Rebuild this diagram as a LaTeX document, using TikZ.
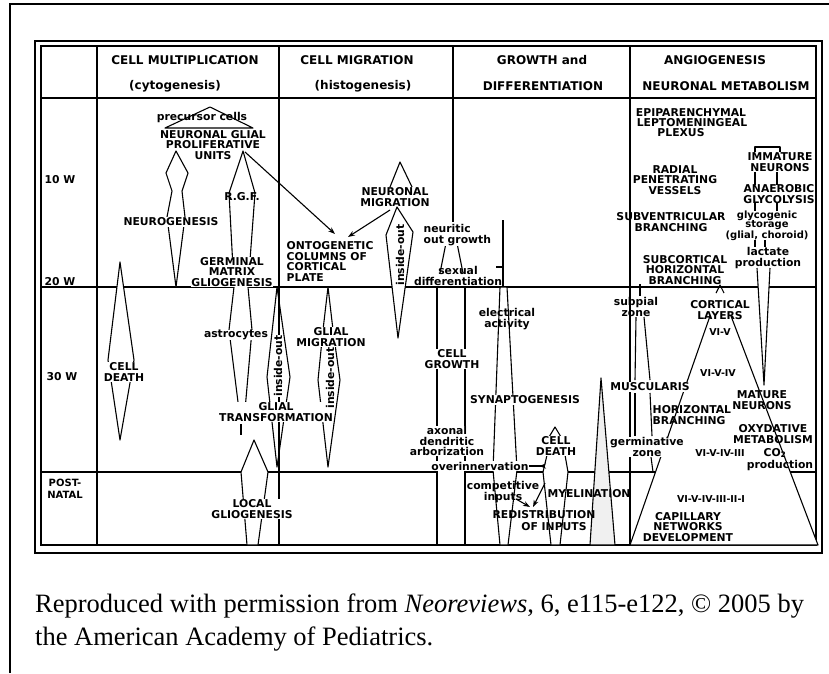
\documentclass[tikz,border=0pt]{standalone}
\usepackage{fontspec}
\setmainfont{Liberation Serif}
\newfontfamily\labfont{DejaVu Sans}
\usetikzlibrary{arrows.meta}
\begin{document}
\begin{tikzpicture}[x=1pt,y=-1pt,
  lab/.style={font=\labfont\bfseries\fontsize{10.8}{10.5}\selectfont, inner sep=0.5pt, align=center},
  labw/.style={lab, fill=white},
  sm/.style={font=\labfont\bfseries\fontsize{9.5}{10}\selectfont, inner sep=0.5pt, align=center},
  hd/.style={font=\labfont\bfseries\fontsize{12}{12}\selectfont, inner sep=0},
  grid/.style={line width=1.3pt},
  outl/.style={line width=1.1pt, line join=round},
  arr/.style={line width=1.1pt, -{Stealth[length=7pt,width=5pt]}},
  rarr/.style={line width=1.1pt, -{Stealth[length=7pt,width=5pt,reversed]}},
  captext/.style={font=\fontsize{26.5}{33}\selectfont, inner sep=0, anchor=base west},
]
\useasboundingbox (0,0) rectangle (829,673);
% page frame
\draw[line width=1.3pt] (10,673) -- (10,4) -- (829,4);
% table frame
\draw[line width=1.7pt] (35,41) rectangle (822,553);
\draw[line width=1.1pt] (41,46) rectangle (816,545);
% grid
\draw[grid] (41,98) -- (816,98);
\draw[grid] (41,287) -- (816,287);
\draw[grid] (41,472) -- (816,472);
\draw[grid] (97,46) -- (97,545);
\draw[grid] (279,46) -- (279,545);
\draw[grid] (453,46) -- (453,222);
\draw[grid] (630,46) -- (630,545);

% headers
\node[hd] (h1a) at (185,60) {CELL MULTIPLICATION};
\node[hd] (h1b) at (175,86) {(cytogenesis)};
\node[hd] (h2a) at (357,60) {CELL MIGRATION};
\node[hd] (h2b) at (363,86) {(histogenesis)};
\node[hd] (h3a) at (542,60) {GROWTH and};
\node[hd] (h3b) at (543,86) {DIFFERENTIATION};
\node[hd] (h4a) at (715,60) {ANGIOGENESIS};
\node[hd] (h4b) at (726,86) {NEURONAL METABOLISM};

% row labels
\node[lab] (w10) at (60,180) {10 W};
\node[lab] (w20) at (60,282) {20 W};
\node[lab] (w30) at (62,377) {30 W};
\node[lab, font=\labfont\bfseries\fontsize{10}{12}\selectfont] (post) at (65,489) {POST-\\NATAL};

% ---------- shapes: cell multiplication ----------
\draw[outl] (165,128) -- (210,107) -- (253,128) -- cycle;
\draw[outl,fill=white] (176,151) -- (188,173) -- (182,191) -- (185,217) -- (176,287)
  -- (167,217) -- (172,191) -- (166,173) -- cycle;
\draw[outl,fill=white] (243,151) -- (255,193) -- (248,287) -- (252,330) -- (245,410)
  -- (239,410) -- (229,330) -- (234,287) -- (229,193) -- cycle;
\draw[outl] (241,424) -- (241,435);
\draw[outl,fill=white] (120,262) -- (134,360) -- (120,440) -- (108,360) -- cycle;
\draw[outl,fill=white] (254,440) -- (268,472) -- (258,545) -- (247,545) -- (241,472) -- cycle;
\draw[outl] (277,287) -- (290,377) -- (277,467) -- (267,377) -- cycle;

% ---------- shapes: cell migration ----------
\coordinate (a1s) at (245,152);
\coordinate (a1e) at (335,234);
\coordinate (a2s) at (390,210);
\coordinate (a2e) at (348,237);
\draw[arr] (a1s) -- (a1e);
\draw[outl] (390,187) -- (400,162) -- (412,187);
\draw[arr] (a2s) -- (a2e);
\draw[outl,fill=white] (397,207) -- (413,232) -- (398,338) -- (386,235) -- cycle;
\draw[outl,fill=white] (328,287) -- (333,330) -- (340,380) -- (328,467) -- (318,380) -- (323,330) -- cycle;

% ---------- texts: cell multiplication ----------
\node[lab] (prec) at (202,118) {precursor cells};
\node[lab] (ngpu) at (213,145) {NEURONAL GLIAL\\PROLIFERATIVE\\UNITS};
\node[labw] (neuro) at (171,222) {NEUROGENESIS};
\node[lab] (rgf) at (242,197) {R.G.F.};
\node[labw] (gmg) at (232,272) {GERMINAL\\MATRIX\\GLIOGENESIS};
\node[labw] (astro) at (236,335) {astrocytes};
\node[labw] (cdeath1) at (124,372) {CELL\\DEATH};
\node[labw,rotate=90] (io1) at (278,366) {inside-out};
\node[labw] (gtrans) at (276,412) {GLIAL\\TRANSFORMATION};
\node[labw] (local) at (252,509) {LOCAL\\GLIOGENESIS};

% ---------- texts: cell migration ----------
\node[lab,align=left,anchor=north west] (onto) at (286,241) {ONTOGENETIC\\COLUMNS OF\\CORTICAL\\PLATE};
\node[lab] (nmig) at (395,197) {NEURONAL\\MIGRATION};
\node[labw,rotate=90] (io2) at (400,255) {inside-out};
\node[labw] (gmig) at (331,337) {GLIAL\\MIGRATION};
\node[labw,rotate=90] (io3) at (330,378) {inside-out};

% ---------- column: growth and differentiation ----------
\fill[white] (438,288) rectangle (464,544);
\draw[outl] (446,243) -- (440,273);
\draw[outl] (457,243) -- (463,273);
\draw[outl] (437,287) -- (437,545);
\draw[outl] (465,287) -- (465,545);
\draw[line width=1.8pt] (503,220) -- (503,287);
\draw[outl] (496,267) -- (503,267);
\draw[outl,fill=white] (500,287) -- (493,470) -- (500,545) -- (508,545) -- (517,470) -- (507,287) -- cycle;
\draw[outl] (549,437) -- (555,427) -- (561,437);
\draw[outl,fill=white] (547,455) -- (543,472) -- (551,545) -- (560,545) -- (568,472) -- (565,455);
\draw[outl,fill=gray!12] (601,378) -- (615,545) -- (590,545) -- cycle;

\node[labw,align=left,anchor=west] (neur) at (423,235) {neuritic\\out growth};
\node[lab,anchor=south] (sexd) at (458,286) {sexual\\differentiation};
\node[lab] (elec) at (507,319) {electrical\\activity};
\node[labw] (cgrowth) at (452,359) {CELL\\GROWTH};
\node[labw] (synap) at (525,400) {SYNAPTOGENESIS};
\node[labw] (axon) at (447,441) {axonal\\dendritic\\arborization};
\node[labw] (overinn) at (480,466) {overinnervation};
\node[lab] (compet) at (503,492) {competitive\\inputs};
\node[lab] (redis) at (544,515) {REDISTRIBUTION};
\node[lab] (ofinp) at (554,527) {OF INPUTS};
\node[labw] (cdeath2) at (556,446) {CELL\\DEATH};
\node[lab] (myel) at (589,494) {MYELINATION};

\coordinate (ovend) at (546,466);
\draw[rarr] (overinn.east) -- (ovend);
\coordinate (c1s) at (516,499);
\coordinate (c1e) at (530,507);
\coordinate (c2s) at (545,483);
\coordinate (c2e) at (533,507);
\draw[arr] (c1s) -- (c1e);
\draw[arr] (c2s) -- (c2e);

% ---------- column: angiogenesis / metabolism ----------
\draw[outl] (640,284) -- (640,296);
\draw[outl] (636,317) -- (635,380);
\draw[outl] (644,317) -- (650,380);
\draw[outl] (635,393) -- (635,436);
\draw[outl] (650,393) -- (652,436);
\draw[outl] (651,457) -- (653,472);
\draw[outl,fill=white] (710,316) -- (630,545) -- (818,545) -- (731,316);
\draw[outl] (716,293) -- (720,285) -- (724,293);
\draw[outl,fill=white] (757,268) -- (764,385) -- (770,268);
\draw[outl] (755,152) -- (755,147) -- (780,147) -- (780,152);
\draw[outl] (755,172) -- (755,185);
\draw[outl] (777,172) -- (777,185);
\draw[outl] (755,202) -- (755,211);
\draw[outl] (777,202) -- (777,211);
\draw[outl] (755,240) -- (755,247);
\draw[outl] (765,240) -- (765,247);

\node[lab] (epi1) at (691,113) {EPIPARENCHYMAL};
\node[lab] (epi2) at (692,123) {LEPTOMENINGEAL};
\node[lab] (epi3) at (681,133) {PLEXUS};
\node[lab] (radial) at (675,180) {RADIAL\\PENETRATING\\VESSELS};
\node[lab] (subv) at (671,222) {SUBVENTRICULAR\\BRANCHING};
\node[lab] (subc) at (685,270) {SUBCORTICAL\\HORIZONTAL\\BRANCHING};
\node[lab] (immat) at (780,162) {IMMATURE\\NEURONS};
\node[lab] (anaer) at (779,194) {ANAEROBIC\\GLYCOLYSIS};
\node[lab, font=\labfont\bfseries\fontsize{10}{9.2}\selectfont] (glyco) at (767,226) {glycogenic\\storage\\(glial, choroid)};
\node[lab] (lact) at (768,258) {lactate\\production};
\node[lab] (subpial) at (636,307) {subpial\\zone};
\node[lab] (cortl) at (720,310) {CORTICAL\\LAYERS};
\node[sm] (l1) at (720,332) {VI-V};
\node[sm] (l2) at (718,373) {VI-V-IV};
\node[sm] (l3) at (720,453) {VI-V-IV-III};
\node[sm] (l4) at (711,499) {VI-V-IV-III-II-I};
\node[labw] (musc) at (650,387) {MUSCULARIS};
\node[lab,align=left,anchor=west] (hbr) at (652,415) {HORIZONTAL\\BRANCHING};
\node[lab] (mature) at (762,400) {MATURE\\NEURONS};
\node[lab] (oxy) at (773,434) {OXYDATIVE\\METABOLISM};
\node[lab] (co2) at (775,453) {CO\textsubscript{2}};
\node[lab] (prod2) at (780,466) {production};
\node[labw] (germ) at (647,447) {germinative\\zone};
\node[lab] (capil) at (688,527) {CAPILLARY\\NETWORKS\\DEVELOPMENT};

% caption
\node[captext] (cap1) at (35,612) {Reproduced with permission from \textit{Neoreviews}, 6, e115-e122, © 2005 by};
\node[captext] (cap2) at (35,645) {the American Academy of Pediatrics.};
\end{tikzpicture}
\end{document}
